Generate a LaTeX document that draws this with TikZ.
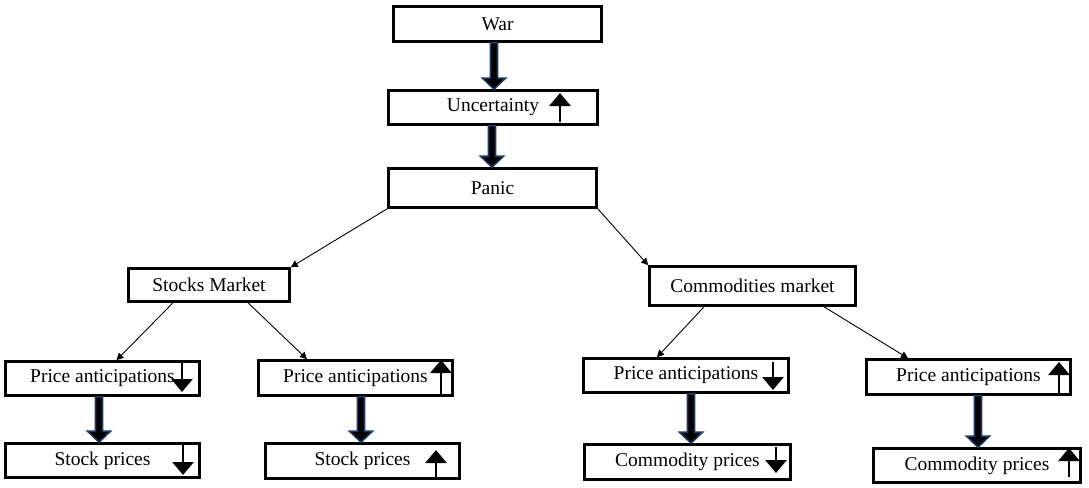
\documentclass[tikz,border=0pt]{standalone}
\usepackage{fontspec}
\setmainfont{Liberation Serif}
\usetikzlibrary{arrows.meta,calc}
\definecolor{navy}{HTML}{1F3864}
\tikzset{
  box/.style={draw=black, line width=2.6pt, fill=white, inner sep=0pt, font=\fontsize{19.5}{21}\selectfont},
  thinarr/.style={draw=black, line width=0.9pt, -{Triangle[width=7pt,length=7pt]}},
  sym/.style={draw=black, line width=2.8pt, -{Triangle[width=21pt,length=13pt]}},
  bigarr/.style={fill=black, draw=navy, line width=1.6pt, line join=miter}
}
\newcommand{\thickarr}[2]{%
  \path[bigarr] let \p1=(#1), \p2=(#2) in
    (\x1-3.5pt,\y1) -- (\x1+3.5pt,\y1) -- (\x1+3.5pt,\y2+11pt) -- (\x1+11.5pt,\y2+11pt)
    -- (\x1,\y2) -- (\x1-11.5pt,\y2+11pt) -- (\x1-3.5pt,\y2+11pt) -- cycle;}
\begin{document}
\begin{tikzpicture}[x=1pt,y=-1pt]
\useasboundingbox (0,0) rectangle (1089,487);
\node[box, minimum width=208, minimum height=35] (war) at (497.5,24) {War};
\node[box, minimum width=209, minimum height=34] (unc) at (493,107.5) {Uncertainty};
\node[box, minimum width=208, minimum height=39] (panic) at (492.5,188) {Panic};
\node[box, minimum width=161, minimum height=33] (stocks) at (209,285) {Stocks Market};
\node[box, minimum width=206, minimum height=39] (comm) at (752.5,286) {Commodities market};
\node[box, minimum width=194, minimum height=34] (pa1) at (102.5,378.5) {Price anticipations};
\node[box, minimum width=194, minimum height=34] (sp1) at (102.5,460.5) {Stock prices};
\node[box, minimum width=194, minimum height=35] (pa2) at (355.5,378) {Price anticipations};
\node[box, minimum width=194, minimum height=35] (sp2) at (362.5,461) {Stock prices};
\node[box, minimum width=205, minimum height=34] (pa3) at (686,375.5) {Price anticipations};
\node[box, minimum width=206, minimum height=35] (cp3) at (687.5,462) {Commodity prices};
\node[box, minimum width=204, minimum height=35] (pa4) at (968.5,377) {Price anticipations};
\node[box, minimum width=207, minimum height=34] (cp4) at (977,465.5) {Commodity prices};
% thick arrows
\thickarr{$(war.south)+(-3.5,0)$}{$(unc.north)+(1,0)$}
\thickarr{$(unc.south)+(-1,0)$}{panic.north}
\thickarr{$(pa1.south)+(-3.5,0)$}{$(sp1.north)+(-3.5,0)$}
\thickarr{$(pa2.south)+(5.5,0)$}{$(sp2.north)+(-1.5,0)$}
\thickarr{$(pa3.south)+(5,0)$}{$(cp3.north)+(3.5,0)$}
\thickarr{$(pa4.south)+(9.5,0)$}{$(cp4.north)+(1,0)$}
% thin arrows
\draw[thinarr] (panic.south west) -- (stocks.north east);
\draw[thinarr] (panic.south east) -- (comm.north west);
\draw[thinarr] ($(stocks.south)+(-36,0)$) -- ($(pa1.north)+(14,0)$);
\draw[thinarr] ($(stocks.south)+(39,0)$) -- ($(pa2.north)+(-48.5,0)$);
\draw[thinarr] ($(comm.south)+(-48.5,0)$) -- ($(pa3.north)+(-29,0)$);
\draw[thinarr] ($(comm.south)+(71.5,0)$) -- ($(pa4.north)+(-60.5,0)$);
% in-box symbols
\draw[sym] (560,122) -- (560,93);
\draw[sym] (182,362) -- (182,392);
\draw[sym] (183,443) -- (183,475);
\draw[sym] (441,395) -- (441,360);
\draw[sym] (436,477) -- (436,450);
\draw[sym] (773,362) -- (773,390);
\draw[sym] (776,447) -- (776,473);
\draw[sym] (1059,393) -- (1059,362);
\draw[sym] (1069,477) -- (1069,448);
\end{tikzpicture}
\end{document}
